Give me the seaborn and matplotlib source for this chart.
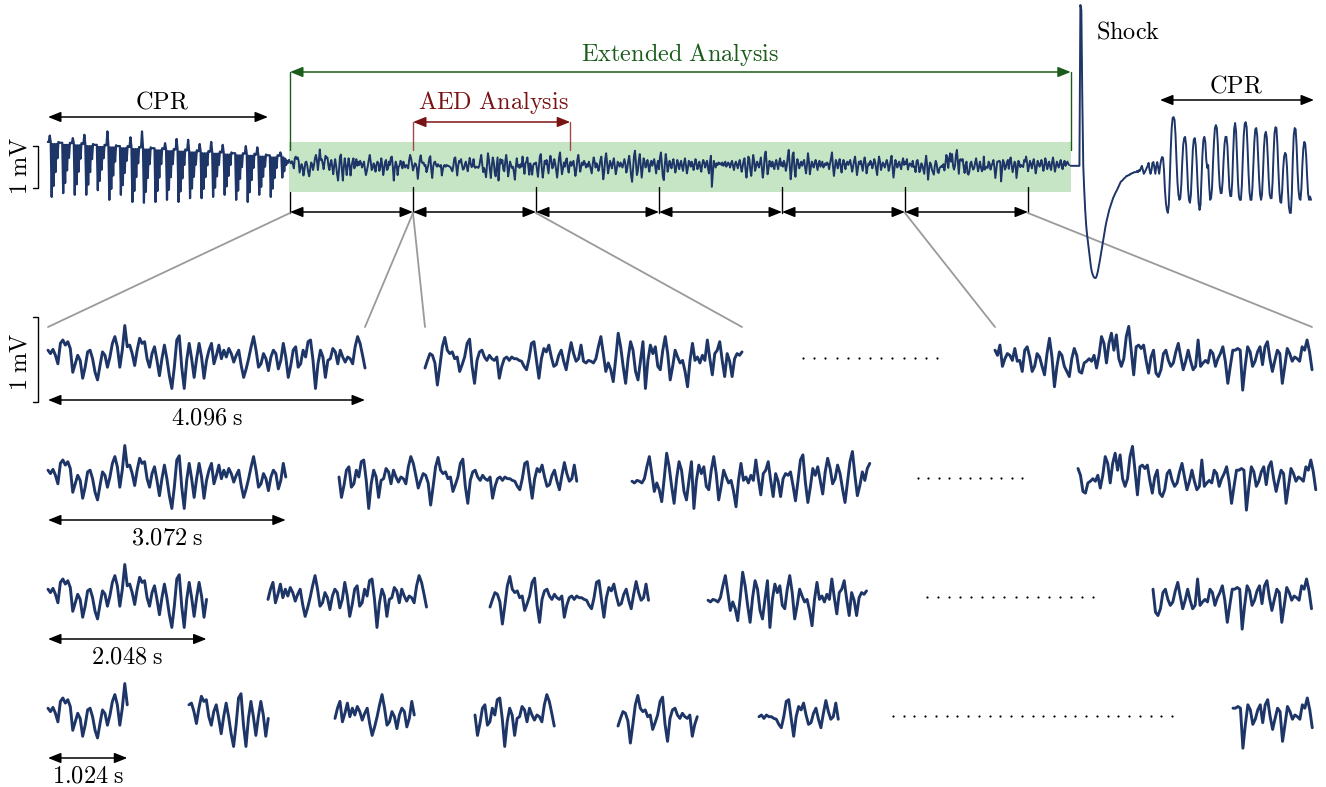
import numpy as np
import matplotlib
matplotlib.use("Agg")
import matplotlib.pyplot as plt
from matplotlib.patches import Rectangle
import seaborn as sns

sns.set_style("white")
plt.rcParams["mathtext.fontset"] = "cm"
plt.rcParams["font.family"] = ["DejaVu Serif"]

# ---------------- data (mV), sampled every 0.032 s ----------------
DT = 0.032
# VF signal, 4.096 s windows (128 samples each)
w1 = [0.08, 0.04, 0.09, 0.02, -0.08, 0.16, 0.20, 0.14, 0.18, 0.10, -0.18, -0.08, 0.02, -0.04, -0.25, -0.12,
      0.06, 0.08, -0.02, -0.18, -0.27, -0.10, 0.06, 0.02, -0.12, 0.00, 0.16, 0.24, 0.12, -0.12, 0.08, 0.37,
      0.12, 0.14, 0.04, -0.10, 0.08, 0.22, 0.16, 0.18, -0.02, -0.12, 0.04, 0.12, -0.04, -0.22, -0.02, 0.14,
      -0.02, -0.22, -0.37, -0.12, 0.20, 0.25, -0.12, -0.37, -0.04, 0.16, -0.02, -0.24, -0.02, 0.16, 0.00, -0.25,
      -0.04, 0.08, 0.16, -0.08, 0.02, 0.14, -0.02, 0.08, 0.00, 0.10, 0.04, -0.06, 0.02, 0.08, -0.10, -0.24,
      -0.14, -0.02, 0.12, 0.24, 0.08, -0.12, -0.08, 0.04, -0.02, -0.16, 0.00, 0.08, 0.04, -0.14, -0.04, 0.16,
      0.00, -0.24, -0.10, 0.08, 0.12, -0.12, -0.08, 0.08, 0.00, 0.18, 0.20, -0.04, -0.37, -0.08, 0.08, 0.00,
      -0.24, -0.04, -0.02, 0.10, 0.06, -0.08, 0.08, 0.00, -0.06, 0.00, -0.02, -0.08, 0.12, 0.24, 0.16, 0.02]
w2 = [-0.13, -0.04, 0.04, 0.02, -0.07, -0.33, -0.11, 0.12, 0.23, 0.08, 0.04, 0.06, -0.02, 0.00, -0.17, -0.09,
      0.00, 0.16, 0.21, -0.11, -0.31, -0.04, 0.06, 0.08, 0.00, -0.04, 0.02, -0.02, -0.04, 0.00, -0.25, -0.11,
      -0.02, 0.00, -0.04, 0.00, -0.02, -0.02, -0.04, -0.05, -0.11, -0.15, -0.02, 0.16, 0.18, -0.04, -0.25, -0.02,
      0.10, 0.06, 0.14, 0.00, -0.11, -0.09, 0.02, 0.08, -0.05, -0.15, 0.02, 0.17, 0.04, -0.05, -0.02, 0.14,
      -0.05, -0.07, -0.04, -0.05, -0.07, -0.02, 0.12, 0.24, 0.04, -0.17, -0.07, -0.15, -0.29, -0.02, 0.28, 0.12,
      -0.11, -0.31, -0.02, 0.18, 0.08, -0.17, -0.27, -0.04, 0.18, -0.37, -0.04, 0.14, 0.04, 0.12, -0.11, -0.15,
      0.08, 0.24, 0.04, -0.27, -0.11, 0.08, 0.00, -0.07, -0.04, -0.17, -0.35, -0.04, 0.16, -0.04, 0.00, -0.07,
      0.02, -0.04, 0.20, -0.02, -0.21, 0.04, 0.08, 0.18, -0.04, -0.23, 0.04, -0.05, -0.23, -0.02, 0.04, 0.02]
w3 = [0.06, -0.10, -0.28, -0.05, 0.20, 0.26, -0.06, -0.30, -0.12, 0.10, 0.02, 0.12, -0.04, -0.20, 0.06, 0.22,
      0.10, -0.08, -0.02, 0.14, 0.04, -0.14, -0.30, -0.06, 0.18, 0.30, 0.02, -0.22, -0.10, 0.06, -0.04, 0.10,
      0.16, -0.06, -0.18, 0.00, 0.08, -0.02, 0.04, 0.10, -0.08, -0.26, -0.12, 0.12, 0.24, 0.06, -0.16, -0.04,
      0.06, 0.00, 0.10, 0.04, -0.06, 0.02, -0.04, 0.08, 0.00, -0.10, -0.20, 0.02, 0.18, 0.08, -0.06, 0.04,
      -0.02, -0.14, -0.04, 0.12, 0.20, -0.08, -0.34, -0.16, 0.14, 0.28, 0.04, -0.20, -0.06, 0.10, 0.02, -0.08,
      0.06, 0.16, -0.02, -0.22, -0.10, 0.08, 0.02, -0.04, 0.06, 0.00, -0.06, 0.04, 0.14, 0.02, -0.18, -0.08,
      0.10, 0.22, 0.00, -0.26, -0.40, -0.10, 0.22, 0.34, 0.06, -0.24, -0.14, 0.12, 0.26, -0.02, -0.30, -0.08,
      0.16, 0.08, -0.06, 0.02, 0.12, -0.04, -0.16, 0.04, 0.10, -0.02, 0.06, 0.14, -0.04, -0.20, 0.00, 0.10]
w4 = [-0.10, 0.18, 0.30, 0.02, -0.28, -0.36, 0.00, 0.26, 0.08, -0.16, -0.04, 0.10, 0.00, -0.08, 0.06, 0.14,
      -0.02, -0.18, -0.06, 0.12, 0.04, -0.10, 0.02, 0.10, -0.04, -0.14, 0.04, 0.16, 0.00, -0.20, -0.08, 0.10,
      0.06, -0.04, 0.08, 0.00, -0.12, 0.02, 0.14, 0.04, -0.10, -0.02, 0.08, -0.06, -0.16, 0.02, 0.12, 0.06,
      -0.06, 0.04, 0.10, -0.08, -0.20, 0.06, 0.22, -0.52, -0.20, 0.10, 0.02, -0.06, 0.04, 0.00, 0.06, 0.02,
      0.04, 0.00, 0.06, -0.02, 0.02, 0.08, -0.04, 0.00, 0.06, 0.02, -0.06, 0.04, 0.10, -0.02, -0.12, 0.02,
      0.08, 0.00, -0.08, 0.04, 0.12, -0.02, -0.16, -0.04, 0.10, 0.16, -0.10, -0.30, -0.08, 0.20, 0.14, -0.12,
      -0.26, 0.00, 0.24, 0.10, -0.14, -0.04, 0.08, 0.02, -0.06, 0.06, 0.18, -0.06, -0.30, -0.12, 0.22, 0.32,
      0.04, -0.22, -0.08, 0.10, 0.02, -0.04, 0.08, -0.02, -0.10, 0.04, 0.12, 0.00, -0.10, 0.06, 0.16, -0.02]
w5 = [0.06, -0.04, 0.10, 0.02, -0.14, -0.02, 0.20, 0.36, 0.00, -0.34, -0.12, 0.24, 0.30, -0.10, -0.28, 0.00,
      0.14, 0.04, -0.08, 0.02, 0.08, -0.02, 0.06, 0.12, -0.06, -0.20, 0.00, 0.28, 0.10, -0.22, -0.06, 0.08,
      0.00, -0.06, 0.06, 0.12, 0.00, -0.12, 0.04, 0.10, -0.04, 0.02, 0.08, -0.06, -0.02, 0.04, 0.00, 0.06,
      0.02, -0.10, 0.04, 0.16, 0.30, -0.02, -0.26, -0.08, 0.12, 0.04, -0.08, 0.06, 0.14, -0.04, -0.18, 0.02,
      0.12, 0.02, -0.10, 0.04, 0.08, 0.00, 0.06, 0.12, -0.02, -0.16, -0.04, 0.10, 0.20, 0.00, -0.24, -0.08,
      0.08, 0.02, 0.10, -0.02, -0.14, 0.06, 0.18, 0.04, -0.20, -0.06, 0.04, 0.00, 0.10, 0.04, -0.08, 0.02,
      0.14, 0.06, -0.10, -0.24, 0.02, 0.20, 0.08, -0.12, -0.02, 0.06, 0.00, -0.06, 0.04, 0.12, 0.02, -0.14,
      -0.04, 0.10, 0.22, -0.04, -0.30, -0.10, 0.12, 0.04, -0.06, 0.02, 0.08, -0.02, -0.10, 0.06, 0.16, 0.00]
w6 = [0.08, 0.02, 0.14, -0.11, -0.02, 0.04, 0.02, -0.04, 0.10, -0.05, -0.04, -0.17, 0.08, 0.12, 0.00, -0.17,
      -0.11, 0.04, 0.00, -0.11, -0.21, 0.04, 0.22, 0.00, -0.35, -0.11, 0.06, 0.02, -0.11, -0.17, -0.23, -0.02,
      0.10, 0.02, -0.17, -0.19, -0.07, -0.05, -0.02, -0.05, 0.02, -0.13, 0.02, 0.24, 0.16, -0.07, 0.16, 0.28,
      0.08, 0.26, -0.02, -0.11, -0.02, 0.24, 0.36, 0.08, -0.21, 0.12, 0.14, 0.10, 0.14, -0.04, -0.19, 0.00,
      0.08, -0.19, -0.23, -0.15, 0.04, 0.08, -0.04, -0.11, -0.07, 0.06, 0.16, 0.00, -0.15, -0.05, 0.08, -0.05,
      -0.15, -0.11, 0.20, -0.11, -0.07, -0.04, -0.07, 0.08, 0.04, -0.11, -0.02, 0.04, 0.12, -0.05, -0.31, -0.11,
      0.08, 0.08, 0.10, 0.08, -0.39, -0.11, 0.12, 0.06, -0.11, -0.05, 0.06, 0.12, -0.09, 0.12, 0.18, -0.02,
      -0.17, -0.04, 0.08, 0.04, -0.31, -0.11, 0.10, 0.04, -0.05, 0.00, -0.02, -0.05, 0.12, 0.08, 0.20, 0.06]
w7 = [-0.15, -0.04, 0.10, 0.02, -0.08, 0.06, 0.14, -0.02, -0.20, -0.06, 0.10, 0.04, -0.04, 0.02, 0.12, 0.00,
      -0.14, -0.02, 0.16, 0.06, -0.10, 0.00, 0.08, -0.04, -0.12, 0.06, 0.18, 0.02, -0.16, -0.04, 0.08, 0.00,
      -0.06, 0.04, 0.12, -0.02, -0.10, 0.04, 0.10, -0.02, 0.04, 0.08, 0.02, 0.00]

# CPR before the analysis (21 compressions, 12 samples each)
cpr_pre = [0.55, 0.55, 0.70, 0.55, -0.76, 0.50, -0.50, 0.50, -0.17, 0.50, 0.16, 0.55,
           0.53, 0.53, 0.53, 0.53, -0.67, 0.48, -0.43, 0.48, -0.13, 0.48, 0.17, 0.53,
           0.52, 0.52, 0.64, 0.52, -0.71, 0.47, -0.46, 0.47, -0.16, 0.47, 0.15, 0.52,
           0.50, 0.50, 0.72, 0.50, -0.71, 0.45, -0.47, 0.45, -0.17, 0.45, 0.14, 0.50,
           0.48, 0.48, 0.48, 0.48, -0.60, 0.43, -0.38, 0.43, -0.11, 0.43, 0.16, 0.48,
           0.47, 0.47, 0.80, 0.47, -0.83, 0.42, -0.57, 0.42, -0.25, 0.42, 0.08, 0.47,
           0.45, 0.45, 0.45, 0.45, -0.71, 0.40, -0.48, 0.40, -0.19, 0.40, 0.10, 0.45,
           0.43, 0.43, 0.66, 0.43, -0.88, 0.38, -0.62, 0.38, -0.29, 0.38, 0.04, 0.43,
           0.42, 0.42, 0.80, 0.42, -0.90, 0.37, -0.64, 0.37, -0.31, 0.37, 0.02, 0.42,
           0.40, 0.40, 0.40, 0.40, -0.88, 0.35, -0.62, 0.35, -0.30, 0.35, 0.02, 0.40,
           0.38, 0.38, 0.52, 0.38, -0.83, 0.33, -0.59, 0.33, -0.29, 0.33, 0.02, 0.38,
           0.37, 0.37, 0.62, 0.37, -0.88, 0.32, -0.63, 0.32, -0.32, 0.32, 0.00, 0.37,
           0.35, 0.35, 0.60, 0.35, -0.79, 0.30, -0.56, 0.30, -0.28, 0.30, 0.01, 0.35,
           0.33, 0.33, 0.50, 0.33, -0.79, 0.28, -0.57, 0.28, -0.29, 0.28, -0.01, 0.33,
           0.32, 0.32, 0.55, 0.32, -0.76, 0.27, -0.54, 0.27, -0.27, 0.27, 0.00, 0.32,
           0.30, 0.30, 0.48, 0.30, -0.71, 0.25, -0.51, 0.25, -0.26, 0.25, 0.00, 0.30,
           0.28, 0.28, 0.28, 0.28, -0.83, 0.23, -0.61, 0.23, -0.33, 0.23, -0.05, 0.28,
           0.27, 0.27, 0.45, 0.27, -0.88, 0.22, -0.65, 0.22, -0.36, 0.22, -0.07, 0.27,
           0.25, 0.25, 0.42, 0.25, -0.71, 0.20, -0.52, 0.20, -0.28, 0.20, -0.04, 0.25,
           0.23, 0.23, 0.23, 0.23, -0.76, 0.18, -0.56, 0.18, -0.31, 0.18, -0.07, 0.23,
           0.22, 0.22, 0.30, 0.22, -0.30, 0.18, -0.15, 0.15, 0.00, 0.10, 0.05, 0.12]

# shock and CPR afterwards
post = [-0.02, -0.02, -0.02, -0.02, -0.02, -0.02, -0.02, -0.02, -0.02, -0.02,
        3.81, 3.69, 1.55, -0.02, -0.60, -1.07, -1.43, -1.67, -1.86, -2.07,
        -2.26, -2.43, -2.55, -2.62, -2.67, -2.69, -2.69, -2.64, -2.55, -2.43,
        -2.31, -2.17, -2.02, -1.88, -1.74, -1.60, -1.48, -1.36, -1.26, -1.17,
        -1.07, -1.00, -0.93, -0.86, -0.79, -0.74, -0.69, -0.64, -0.60, -0.55,
        -0.50, -0.45, -0.40, -0.38, -0.36, -0.33, -0.31, -0.29, -0.26, -0.26,
        -0.24, -0.24, -0.21, -0.21, -0.19, -0.19, -0.17, -0.17, -0.17, -0.14,
        -0.17, -0.12, -0.14, -0.07, -0.02, -0.12, -0.21, -0.17, -0.12, -0.07,
        -0.02, 0.05, -0.12, -0.21, -0.12, 0.05, 0.07, -0.07, -0.21, -0.02,
        0.07, -0.07, -0.21, -0.02, 0.12, 0.19, 0.17, -0.12, -0.60, -0.90,
        -1.07, -1.14, -0.95, -0.36, 0.36, 0.88, 1.12, 1.14, 1.07, 0.71,
        0.12, -0.40, -0.71, -0.83, -0.79, -0.48, 0.07, 0.48, 0.64, 0.67,
        0.48, 0.00, -0.55, -0.83, -0.90, -0.71, -0.17, 0.36, 0.60, 0.64,
        0.48, 0.07, -0.48, -0.90, -1.07, -0.95, -0.36, 0.24, 0.60, 0.67,
        0.55, 0.12, -0.07, 0.00, -0.48, -0.83, -0.79, -0.55, 0.05, 0.55,
        0.88, 0.95, 0.88, 0.50, -0.10, -0.50, -0.67, -0.67, -0.40, 0.10,
        0.50, 0.67, 0.67, 0.45, -0.05, -0.55, -0.74, -0.74, -0.40, 0.30,
        0.85, 1.00, 0.80, 0.20, -0.40, -0.75, -0.83, -0.83, -0.50, 0.15,
        0.70, 0.98, 1.02, 0.90, 0.40, -0.20, -0.65, -0.83, -0.83, -0.55,
        0.00, 0.55, 0.85, 0.88, 0.70, 0.20, -0.35, -0.70, -0.83, -0.70,
        -0.20, 0.40, 0.72, 0.79, 0.65, 0.20, -0.35, -0.70, -0.79, -0.79,
        -0.40, 0.25, 0.75, 0.90, 0.88, 0.50, -0.10, -0.60, -0.88, -0.90,
        -0.60, -0.10, 0.20, 0.29, 0.25, -0.05, -0.60, -1.00, -1.14, -1.14,
        -0.70, 0.10, 0.70, 0.88, 0.85, 0.45, -0.15, -0.60, -0.80, -0.83,
        -0.55, 0.00, 0.40, 0.55, 0.50, 0.20, -0.30, -0.70, -0.83, -0.75,
        -0.83]

window_labels = ["4.096", "3.072", "2.048", "1.024"]
window_secs = [4.096, 3.072, 2.048, 1.024]
n_analysis_windows = 6
analysis_secs = 26.0

vf = np.array(w1 + w2 + w3 + w4 + w5 + w6 + w7)
t_vf = np.arange(len(vf)) * DT
cpr_pre = np.array(cpr_pre)
t_cpr = -len(cpr_pre) * DT + np.arange(len(cpr_pre)) * DT
post = np.array(post)
t_post = analysis_secs + np.arange(len(post)) * DT

# ---------------- layout (pixels) ----------------
W, H = 1326, 787
NAVY = "#1d3567"
GREEN_TXT = "#1a5c1a"
GREEN_BOX = "#c5e5c5"
RED = "#7a1414"
GREY = "#9a9a9a"
FS = 17.5

fig = plt.figure(figsize=(W / 100, H / 100), dpi=100)


def px_axes(x0, y0, w, h, z=2):
    ax = fig.add_axes([x0 / W, 1 - (y0 + h) / H, w / W, h / H], zorder=z)
    ax.set_axis_off()
    ax.patch.set_alpha(0)
    return ax


ov = px_axes(0, 0, W, H, z=1)
ov.set_xlim(0, W)
ov.set_ylim(H, 0)

# main trace: t=0 at x=290, 30.03 px/s ; 0 mV at y=165, 42 px/mV
X0, PXS, Y0, PXMV = 290.0, 30.03, 165.0, 42.0
main = px_axes(0, 0, W, 300)
main.set_xlim(-X0 / PXS, (W - X0) / PXS)
main.set_ylim(-(300 - Y0) / PXMV, Y0 / PXMV)


def trace(ax, t, v, lw):
    sns.lineplot(x=t, y=v, ax=ax, color=NAVY, linewidth=lw, estimator=None,
                 sort=False, legend=False)
    for l in ax.lines:
        l.set_clip_on(False)
        l.set_solid_joinstyle("round")


trace(main, t_cpr, cpr_pre, 1.6)
trace(main, t_vf, vf, 1.4)
trace(main, t_post, post, 1.4)

x_end = X0 + analysis_secs * PXS
ov.add_patch(Rectangle((X0 - 1, 141.5), x_end - X0 + 1, 50.5, color=GREEN_BOX, lw=0, zorder=0))


def darrow(x0, x1, y, color="k", lw=1.1):
    ov.annotate("", xy=(x1, y), xytext=(x0, y),
                arrowprops=dict(arrowstyle="<|-|>,head_length=0.55,head_width=0.22",
                                color=color, lw=lw, shrinkA=0, shrinkB=0,
                                mutation_scale=14))


def txt(x, y, s, color="k", **kw):
    ov.text(x, y, s, color=color, fontsize=FS, ha="center", va="center", **kw)


# top annotations
txt(162, 102, r"$\mathrm{CPR}$")
darrow(48, 268, 117)
txt(680, 54, r"$\mathrm{Extended\ Analysis}$", color=GREEN_TXT)
darrow(X0, x_end, 72, color=GREEN_TXT)
ov.plot([X0, X0], [72, 150], color=GREEN_TXT, lw=1.0)
ov.plot([x_end, x_end], [72, 150], color=GREEN_TXT, lw=1.0)
aed0 = X0 + 4.096 * PXS
aed1 = X0 + 9.33 * PXS
txt(493, 103, r"$\mathrm{AED\ Analysis}$", color=RED)
darrow(aed0, aed1, 122, color=RED)
ov.plot([aed0, aed0], [122, 150], color="#a04848", lw=1.0)
ov.plot([aed1, aed1], [122, 150], color="#a04848", lw=1.0)
txt(1128, 32, r"$\mathrm{Shock}$")
txt(1236, 86, r"$\mathrm{CPR}$")
darrow(1160, 1314, 100)

# top 1 mV bar
ov.plot([33, 38, 38, 33], [146, 146, 188, 188], color="k", lw=1.0)
txt(20, 166, r"$1\;\mathrm{mV}$", rotation=90)

# window markers
wx = [X0 + k * window_secs[0] * PXS for k in range(n_analysis_windows + 1)]
for k, x in enumerate(wx):
    ov.plot([x, x], [187 if k else 192, 213], color="k", lw=1.0)
for a, b in zip(wx[:-1], wx[1:]):
    darrow(a, b, 212)

# connectors to first row
conn = [((wx[0], 213), (48, 327)), ((wx[1], 213), (365, 327)), ((wx[1], 213), (425, 327)),
        ((wx[2], 213), (742, 327)), ((wx[5], 213), (995, 327)), ((wx[6], 213), (1312, 327))]
for (xa, ya), (xb, yb) in conn:
    ov.plot([xa, xb], [ya, yb], color=GREY, lw=1.3)

# ---------------- lower rows ----------------
PXS2, PXMV2 = 77.4, 85.0
rows = [
    dict(yb=357, starts=[48, 425], last=995, dots=(803, 937, 13)),
    dict(yb=477, starts=[48, 339, 632], last=1078, dots=(918, 1022, 11)),
    dict(yb=596, starts=[48, 268, 490, 708], last=1153, dots=(927, 1093, 16)),
    dict(yb=715, starts=[48, 189, 335, 475, 618, 759], last=1233, dots=(893, 1172, 27)),
]
n_end = int(round(n_analysis_windows * window_secs[0] / DT))
for r, (row, secs, lab) in enumerate(zip(rows, window_secs, window_labels)):
    n = int(round(secs / DT))
    wpx = secs * PXS2
    segs = [(x, k * n) for k, x in enumerate(row["starts"])] + [(row["last"], n_end - n)]
    for x0, i0 in segs:
        ax = px_axes(x0, row["yb"] - 60, wpx, 120)
        ax.set_xlim(i0 * DT, (i0 + n) * DT)
        ax.set_ylim(-60 / PXMV2, 60 / PXMV2)
        sl = slice(i0, i0 + n + 1)
        trace(ax, t_vf[sl], vf[sl], 2.1)
    yb = row["yb"]
    darrow(48, 48 + wpx, yb + 43)
    txt(48 + wpx / 2, yb + 61, r"$%s\;\mathrm{s}$" % lab)
    d0, d1, nd = row["dots"]
    ov.scatter(np.linspace(d0, d1, nd), np.full(nd, yb + 1), s=2.5, color="k", lw=0)

# row 1 scale bar
ov.plot([33, 38, 38, 33], [317, 317, 402, 402], color="k", lw=1.0)
txt(20, 362, r"$1\;\mathrm{mV}$", rotation=90)

fig.savefig("out.png", dpi=100)
